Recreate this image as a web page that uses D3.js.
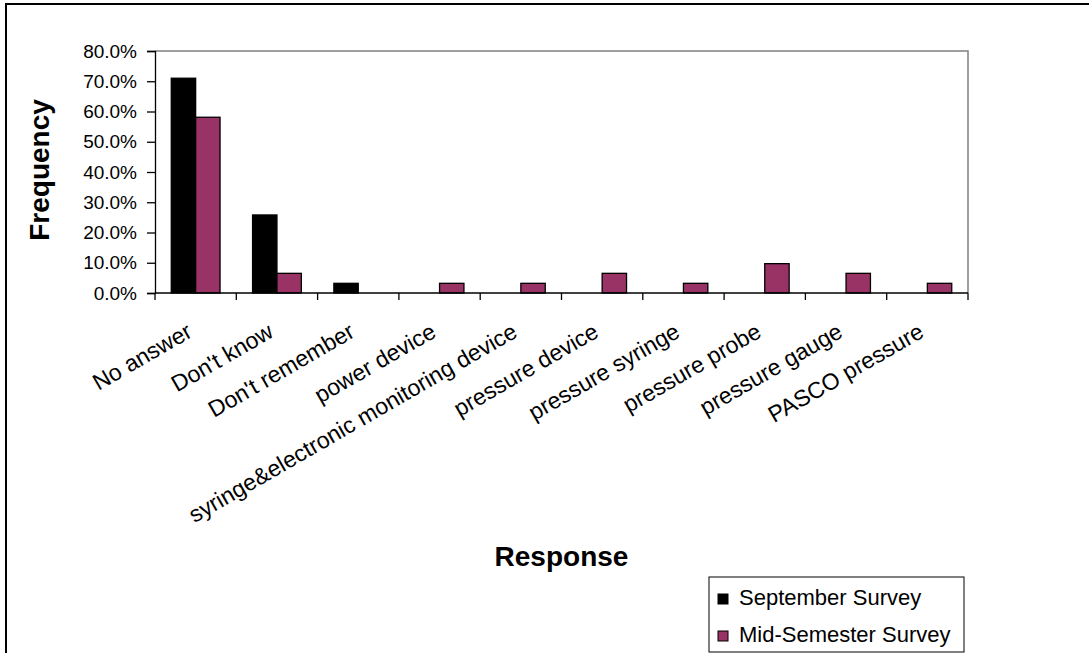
<!DOCTYPE html>
<html>
<head>
<meta charset="utf-8">
<script src="https://cdn.jsdelivr.net/npm/d3@7"></script>
<style>
  html, body { margin: 0; padding: 0; background: #fff; }
  svg { display: block; font-family: "Liberation Sans", Arial, sans-serif; }
</style>
</head>
<body>
<svg id="chart" width="1089" height="653"></svg>
<script>
const categories = ["No answer", "Don't know", "Don't remember", "power device",
  "syringe&electronic monitoring device", "pressure device", "pressure syringe",
  "pressure probe", "pressure gauge", "PASCO pressure"];
const seriesNames = ["September Survey", "Mid-Semester Survey"];
const septemberValues = [71.0, 25.8, 3.2, 0, 0, 0, 0, 0, 0, 0];
const midSemesterValues = [58.1, 6.5, 0, 3.2, 3.2, 6.5, 3.2, 9.7, 6.5, 3.2];
const yTicks = [0, 10, 20, 30, 40, 50, 60, 70, 80];
const colors = ["#000000", "#993366"];

const svg = d3.select("#chart");
const plotLeft = 155, plotRight = 968, plotTop = 51, plotBottom = 293;

// outer chart border
svg.append("rect").attr("x", 6).attr("y", 4).attr("width", 1200).attr("height", 800)
  .attr("fill", "none").attr("stroke", "#000").attr("stroke-width", 2);

const x0 = d3.scaleBand().domain(categories).range([plotLeft, plotRight])
  .paddingInner(0.4).paddingOuter(0.2);
const x1 = d3.scaleBand().domain(seriesNames).range([0, x0.bandwidth()]);
const y = d3.scaleLinear().domain([0, 80]).range([plotBottom, plotTop]);

// plot area border (top & right)
svg.append("path")
  .attr("d", `M${plotLeft},${plotTop}H${plotRight}V${plotBottom}`)
  .attr("fill", "none").attr("stroke", "#808080").attr("stroke-width", 1.5);

// bars
const rows = categories.map((c, i) => ({ c, vals: [septemberValues[i], midSemesterValues[i]] }));
const g = svg.append("g");
rows.forEach(r => {
  r.vals.forEach((v, si) => {
    if (v <= 0) return;
    g.append("rect")
      .attr("x", x0(r.c) + x1(seriesNames[si]))
      .attr("y", y(v))
      .attr("width", x1.bandwidth())
      .attr("height", y(0) - y(v))
      .attr("fill", colors[si])
      .attr("stroke", "#000").attr("stroke-width", 1.3);
  });
});

// y axis
const yAxis = d3.axisLeft(y).tickValues(yTicks).tickSize(8).tickPadding(10)
  .tickFormat(d => d.toFixed(1) + "%");
const ya = svg.append("g").attr("transform", `translate(${plotLeft},0)`).call(yAxis);
ya.attr("font-size", 19).attr("font-family", "'Liberation Sans', Arial, sans-serif");
ya.select(".domain").attr("stroke", "#000").attr("stroke-width", 1.3);
ya.selectAll(".tick line").attr("stroke", "#000").attr("stroke-width", 1.3);
ya.selectAll(".tick text").attr("font-size", 19).attr("fill", "#000");

// x axis line and ticks at category boundaries
const xa = svg.append("g");
xa.append("line").attr("x1", plotLeft).attr("x2", plotRight).attr("y1", plotBottom).attr("y2", plotBottom)
  .attr("stroke", "#000").attr("stroke-width", 1.3);
const step = x0.step();
const boundaries = d3.range(categories.length + 1).map(i => x0(categories[0]) - x0.paddingOuter() * step + i * step);
xa.selectAll("line.tk").data(boundaries).enter().append("line").attr("class", "tk")
  .attr("x1", d => d).attr("x2", d => d).attr("y1", plotBottom).attr("y2", plotBottom + 7)
  .attr("stroke", "#000").attr("stroke-width", 1.3);

// category labels rotated
xa.selectAll("text.cat").data(categories).enter().append("text").attr("class", "cat")
  .attr("transform", d => `translate(${x0(d) + x0.bandwidth() / 2 - 2},${plotBottom + 43}) rotate(-30)`)
  .attr("text-anchor", "end")
  .attr("font-size", 23)
  .attr("fill", "#000")
  .text(d => d);

// axis titles
svg.append("text")
  .attr("transform", `translate(49,170) rotate(-90)`)
  .attr("text-anchor", "middle").attr("font-size", 28).attr("font-weight", "bold")
  .text("Frequency");
svg.append("text")
  .attr("x", (plotLeft + plotRight) / 2).attr("y", 566)
  .attr("text-anchor", "middle").attr("font-size", 28).attr("font-weight", "bold")
  .text("Response");

// legend
const lg = svg.append("g");
lg.append("rect").attr("x", 709).attr("y", 577).attr("width", 255).attr("height", 75)
  .attr("fill", "#fff").attr("stroke", "#000").attr("stroke-width", 1);
seriesNames.forEach((n, i) => {
  const cy = 599 + i * 37;
  lg.append("rect").attr("x", 718).attr("y", cy - 5).attr("width", 10).attr("height", 10)
    .attr("fill", colors[i]).attr("stroke", "#000").attr("stroke-width", 1);
  lg.append("text").attr("x", 739).attr("y", cy + 6).attr("font-size", 22).attr("fill", "#000").text(n);
});
</script>
</body>
</html>
